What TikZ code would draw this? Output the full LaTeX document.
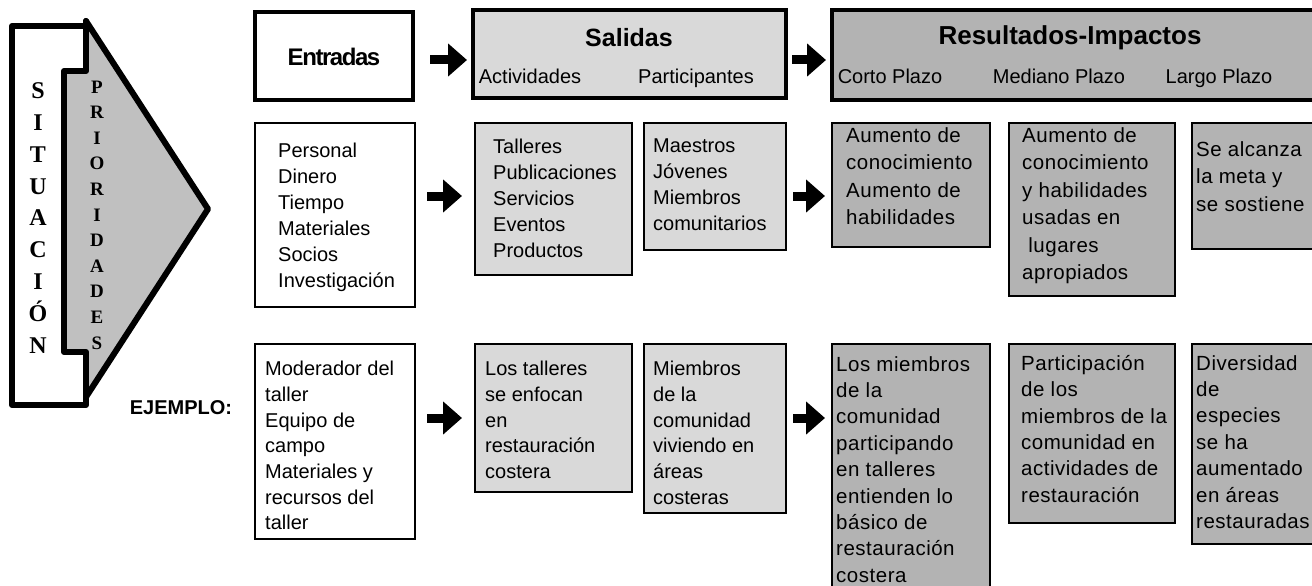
\documentclass[tikz,border=0pt]{standalone}
\usepackage{fontspec}
\setmainfont{Liberation Sans}
\newfontfamily\serifb{Liberation Serif}
\newfontfamily\arialLS[LetterSpace=2.5]{Liberation Sans}
\newfontfamily\arialTight[LetterSpace=-6]{Liberation Sans}
\usetikzlibrary{arrows.meta,calc}
\definecolor{lgray}{HTML}{D9D9D9}
\definecolor{dgray}{HTML}{B3B3B3}
\definecolor{pgray}{HTML}{C0C0C0}
\newcommand\mybox[6]{\node[#1, minimum width={#4-#2}, minimum height={#5-#3}] (#6) at ({(#2+#4)/2},{(#3+#5)/2}) {};}
\begin{document}
\begin{tikzpicture}[x=1pt,y=-1pt,
  hdr/.style={draw=black, line width=4.5pt, inner sep=0pt, outer sep=0pt},
  box/.style={draw=black, line width=2.2pt, inner sep=0pt, outer sep=0pt},
  txt/.style={anchor=north west, align=left, inner sep=0pt, font=\fontsize{20}{26}\selectfont},
  txtb/.style={anchor=north west, align=left, inner sep=0pt, font=\fontsize{20}{25.7}\selectfont},
  txtr/.style={anchor=north west, align=left, inner sep=0pt, font=\arialLS\fontsize{20.5}{27.5}\selectfont},
  txts/.style={anchor=north west, align=left, inner sep=0pt, font=\arialLS\fontsize{20.5}{26.4}\selectfont},
  barrow/.style={line width=9pt, -{Triangle[length=19pt,width=32pt]}},
  sub/.style={inner sep=0pt, anchor=base, font=\fontsize{20}{24}\selectfont}
]
\useasboundingbox (0,0) rectangle (1312,586);
\clip (0,0) rectangle (1312,586);

% Situacion / Prioridades
\fill[pgray] (86,21) -- (208,209) -- (86,397) -- (86,352) -- (64,352) -- (64,71) -- (86,71) -- cycle;
\draw[line width=6pt, line join=round, line cap=round]
  (86,21) -- (86,71) -- (64,71) -- (64,352) -- (86,352) -- (86,405) -- (12,405) -- (12,26) -- (86,26);
\draw[line width=6pt, line join=round, line cap=round] (86,21) -- (208,209) -- (86,397);
\node[inner sep=0pt, align=center, font=\serifb\bfseries\fontsize{24}{31.9}\selectfont] (sit) at (38,218)
  {S\\I\\T\\U\\A\\C\\I\\Ó\\N};
\node[inner sep=0pt, align=center, font=\serifb\bfseries\fontsize{19}{25.6}\selectfont] (pri) at (97,215)
  {P\\R\\I\\O\\R\\I\\D\\A\\D\\E\\S};
\node[inner sep=0pt, font=\bfseries\fontsize{20}{24}\selectfont] (ej) at (181,408) {EJEMPLO:};

% Header row
\mybox{hdr,fill=white}{255}{12}{413}{100}{ent}
\node[inner sep=0pt, font=\arialTight\bfseries\fontsize{24}{28}\selectfont] (entt) at (334,57) {Entradas};
\mybox{hdr,fill=lgray}{473}{10}{786}{98}{sal}
\node[inner sep=0pt, font=\bfseries\fontsize{25}{30}\selectfont] (salt) at (629,38) {Salidas};
\node[sub] (act) at (530,84) {Actividades};
\node[sub] (par) at (696,84) {Participantes};
\mybox{hdr,fill=dgray}{832}{10}{1345}{100}{res}
\node[inner sep=0pt, font=\bfseries\fontsize{26}{30}\selectfont] (rest) at (1070,38) {Resultados-Impactos};
\node[sub] (cp) at (890,84) {Corto Plazo};
\node[sub] (mp) at (1059,84) {Mediano Plazo};
\node[sub] (lp) at (1219,84) {Largo Plazo};
\coordinate (r1) at (0,60);
\draw[barrow] ($(ent.east |- r1)+(17,0)$) -- ($(sal.west |- r1)+(-6,0)$);
\draw[barrow] ($(sal.east |- r1)+(6,0)$) -- ($(res.west |- r1)+(-6,0)$);

% Row 2
\mybox{box,fill=white}{255}{123}{415}{307}{p1}
\node[txt] (p1t) at (278,143) {Personal\\Dinero\\Tiempo\\Materiales\\Socios\\Investigación};
\mybox{box,fill=lgray}{475}{123}{632}{275}{t1}
\node[txt] (t1t) at (493,139) {Talleres\\Publicaciones\\Servicios\\Eventos\\Productos};
\mybox{box,fill=lgray}{644}{123}{786}{250}{m1}
\node[txt] (m1t) at (653,139) {Maestros\\Jóvenes\\Miembros\\comunitarios};
\mybox{box,fill=dgray}{832}{123}{990}{247}{a1}
\node[txtr] (a1t) at (846,127) {Aumento de\\conocimiento\\Aumento de\\habilidades};
\mybox{box,fill=dgray}{1009}{123}{1175}{296}{b1}
\node[txtr] (b1t) at (1022,127) {Aumento de\\conocimiento\\y habilidades\\usadas en\\\ lugares\\apropiados};
\mybox{box,fill=dgray}{1192}{123}{1345}{249}{c1}
\node[txtr] (c1t) at (1196,141) {Se alcanza\\la meta y\\se sostiene};
\coordinate (r2) at (0,196);
\draw[barrow] ($(p1.east |- r2)+(12,0)$) -- ($(t1.west |- r2)+(-13,0)$);
\draw[barrow] ($(m1.east |- r2)+(7,0)$) -- ($(a1.west |- r2)+(-7,0)$);

% Row 3
\mybox{box,fill=white}{255}{344}{415}{539}{p2}
\node[txtb] (p2t) at (265,361) {Moderador del\\taller\\Equipo de\\campo\\Materiales y\\recursos del\\taller};
\mybox{box,fill=lgray}{475}{344}{632}{492}{t2}
\node[txtb] (t2t) at (485,361) {Los talleres\\se enfocan\\en\\restauración\\costera};
\mybox{box,fill=lgray}{644}{344}{786}{513}{m2}
\node[txtb] (m2t) at (653,361) {Miembros\\de la\\comunidad\\viviendo en\\áreas\\costeras};
\mybox{box,fill=dgray}{832}{344}{990}{598}{a2}
\node[txts] (a2t) at (836,356) {Los miembros\\de la\\comunidad\\participando\\en talleres\\entienden lo\\básico de\\restauración\\costera};
\mybox{box,fill=dgray}{1009}{344}{1175}{523}{b2}
\node[txts] (b2t) at (1021,355) {Participación\\de los\\miembros de la\\comunidad en\\actividades de\\restauración};
\mybox{box,fill=dgray}{1192}{344}{1345}{544}{c2}
\node[txts] (c2t) at (1196,355) {Diversidad\\de\\especies\\se ha\\aumentado\\en áreas\\restauradas};
\coordinate (r3) at (0,418);
\draw[barrow] ($(p2.east |- r3)+(12,0)$) -- ($(t2.west |- r3)+(-13,0)$);
\draw[barrow] ($(m2.east |- r3)+(7,0)$) -- ($(a2.west |- r3)+(-7,0)$);
\end{tikzpicture}
\end{document}
